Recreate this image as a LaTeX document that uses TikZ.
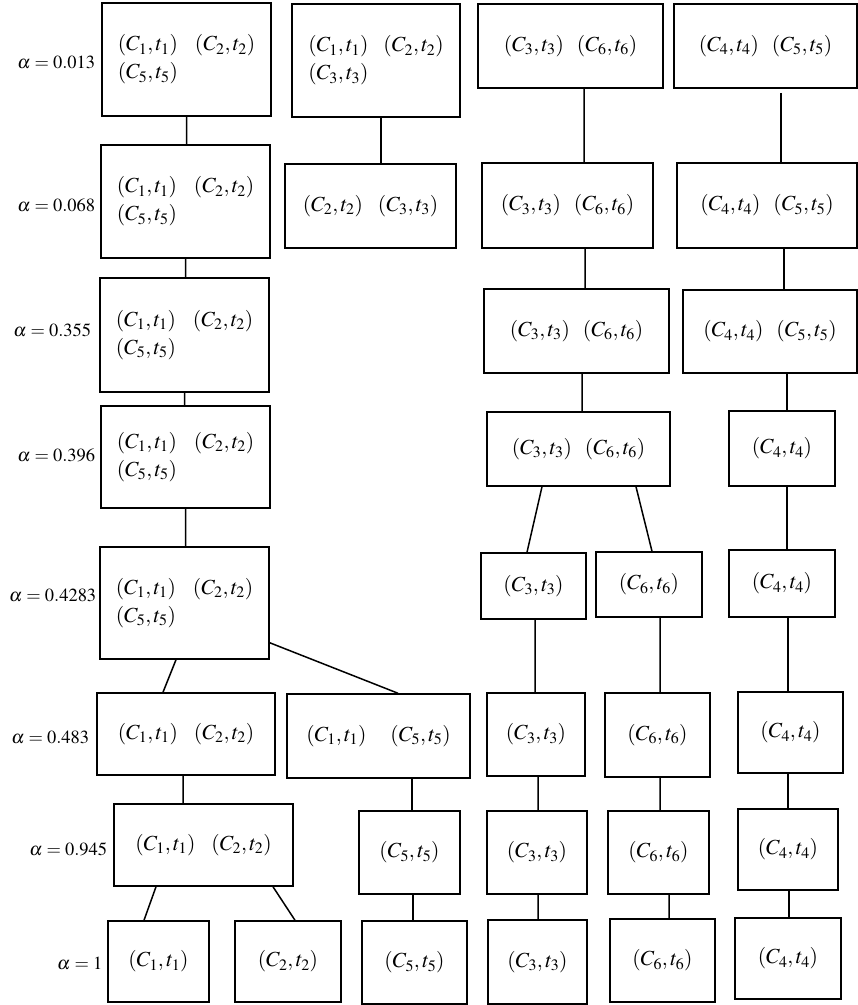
\documentclass[tikz,border=0pt]{standalone}
\usepackage{mathptmx}
\newcommand\cpair[1]{\left(C_{#1},t_{#1}\right)}

\begin{document}
\begin{tikzpicture}[x=1pt,y=-1pt,line width=1.5pt,
  cell/.style={draw,inner sep=0pt,align=left,font=\fontsize{21.5}{28}\selectfont},
  lvl/.style={anchor=east,inner sep=0pt,font=\fontsize{18.5}{22}\selectfont}]
\useasboundingbox (0,0) rectangle (858,1005);
% levels
\node[lvl] (l1) at (96,62) {$\alpha=0.013$};
\node[lvl] (l2) at (96,205) {$\alpha=0.068$};
\node[lvl] (l3) at (92,330) {$\alpha=0.355$};
\node[lvl] (l4) at (96,455) {$\alpha=0.396$};
\node[lvl] (l5) at (97,595) {$\alpha=0.4283$};
\node[lvl] (l6) at (90,737) {$\alpha=0.483$};
\node[lvl] (l7) at (108,849) {$\alpha=0.945$};
\node[lvl] (l8) at (103,963) {$\alpha=1$};
% first column
\node[cell,minimum width=169,minimum height=113] (b1a) at (186.5,59.5)
  {$\cpair1$\hspace{17pt}$\cpair2$\\$\cpair5$};
\node[cell,minimum width=169,minimum height=113] (b1b) at (185.5,201.5)
  {$\cpair1$\hspace{17pt}$\cpair2$\\$\cpair5$};
\node[cell,minimum width=169,minimum height=114] (b1c) at (184.5,335)
  {$\cpair1$\hspace{17pt}$\cpair2$\\$\cpair5$};
\node[cell,minimum width=169,minimum height=102] (b1d) at (185.5,457)
  {$\cpair1$\hspace{17pt}$\cpair2$\\$\cpair5$};
\node[cell,minimum width=169,minimum height=112] (b1e) at (184.5,603)
  {$\cpair1$\hspace{17pt}$\cpair2$\\$\cpair5$};
\node[cell,minimum width=178,minimum height=82] (b1f) at (186,734) {$\cpair1$\hspace{16pt}$\cpair2$};
\node[cell,minimum width=179,minimum height=82] (b1g) at (203.5,845) {$\cpair1$\hspace{16pt}$\cpair2$};
\node[cell,minimum width=101,minimum height=81] (b1h) at (158.5,961.5) {$\cpair1$};
\node[cell,minimum width=106,minimum height=81] (b1i) at (288,961.5) {$\cpair2$};
% second column
\node[cell,minimum width=168,minimum height=113] (b2a) at (376,60.5)
  {$\cpair1$\hspace{15pt}$\cpair2$\\$\cpair3$};
\node[cell,minimum width=171,minimum height=84] (b2b) at (370.5,206) {$\cpair2$\hspace{15pt}$\cpair3$};
\node[cell,minimum width=183,minimum height=84] (b2c) at (378.5,736) {$\cpair1$\hspace{24pt}$\cpair5$};
\node[cell,minimum width=101,minimum height=83] (b2d) at (409.5,852.5) {$\cpair5$};
\node[cell,minimum width=105,minimum height=83] (b2e) at (414.5,962.5) {$\cpair5$};
% third column
\node[cell,minimum width=185,minimum height=84] (b3a) at (570.5,46) {$\cpair3$\hspace{13pt}$\cpair6$};
\node[cell,minimum width=171,minimum height=85] (b3b) at (567.5,205.5) {$\cpair3$\hspace{13pt}$\cpair6$};
\node[cell,minimum width=185,minimum height=84] (b3c) at (576.5,331) {$\cpair3$\hspace{13pt}$\cpair6$};
\node[cell,minimum width=183,minimum height=74] (b3d) at (578.5,449) {$\cpair3$\hspace{13pt}$\cpair6$};
\node[cell,minimum width=105,minimum height=66] (b3e) at (533.5,586) {$\cpair3$};
\node[cell,minimum width=106,minimum height=65] (b3f) at (649,584.5) {$\cpair6$};
\node[cell,minimum width=98,minimum height=83] (b3g) at (536,734.5) {$\cpair3$};
\node[cell,minimum width=100,minimum height=83] (b3h) at (537,852.5) {$\cpair3$};
\node[cell,minimum width=99,minimum height=84] (b3i) at (537.5,962) {$\cpair3$};
\node[cell,minimum width=105,minimum height=84] (b4g) at (657.5,735) {$\cpair6$};
\node[cell,minimum width=101,minimum height=83] (b4h) at (658.5,852.5) {$\cpair6$};
\node[cell,minimum width=105,minimum height=83] (b4i) at (662.5,960.5) {$\cpair6$};
% last column
\node[cell,minimum width=183,minimum height=84] (b5a) at (765.5,46) {$\cpair4$\hspace{13pt}$\cpair5$};
\node[cell,minimum width=180,minimum height=85] (b5b) at (767,205.5) {$\cpair4$\hspace{13pt}$\cpair5$};
\node[cell,minimum width=174,minimum height=83] (b5c) at (770,331.5) {$\cpair4$\hspace{13pt}$\cpair5$};
\node[cell,minimum width=106,minimum height=75] (b5d) at (782,448.5) {$\cpair4$};
\node[cell,minimum width=106,minimum height=67] (b5e) at (782,583.5) {$\cpair4$};
\node[cell,minimum width=105,minimum height=81] (b5f) at (790.5,732.5) {$\cpair4$};
\node[cell,minimum width=100,minimum height=81] (b5g) at (788,849.5) {$\cpair4$};
\node[cell,minimum width=106,minimum height=81] (b5h) at (788,958.5) {$\cpair4$};
% links
\draw(b1a.south)--(b1a.south|-b1b.north)(b1b.south)--(b1b.south|-b1c.north)
(b1c.south)--(b1c.south|-b1d.north)(b1d.south)--(b1d.south|-b1e.north)
([xshift=-8.5]b1e.south)--([xshift=-23]b1f.north)
([yshift=17]b1e.south east)--([xshift=19.5]b2c.north)
([xshift=-3]b1f.south)--([xshift=-3]b1f.south|-b1g.north)
([xshift=-47.5]b1g.south)--([xshift=-14.5]b1h.north)
([xshift=69.5]b1g.south)--([xshift=7]b1i.north);
\draw([xshift=5]b2a.south)--([xshift=5]b2a.south|-b2b.north)
([xshift=33.5]b2c.south)--([xshift=33.5]b2c.south|-b2d.north)
([xshift=3.5]b2d.south)--([xshift=3.5]b2d.south|-b2e.north);
\draw([xshift=13.5]b3a.south)--([xshift=13.5]b3a.south|-b3b.north)
([xshift=17.5]b3b.south)--([xshift=17.5]b3b.south|-b3c.north)
([xshift=5.5]b3c.south)--([xshift=5.5]b3c.south|-b3d.north)
([xshift=-36.5]b3d.south)--([xshift=-6.5]b3e.north)
([xshift=57.5]b3d.south)--([xshift=3]b3f.north)
([xshift=1.5]b3e.south)--([xshift=1.5]b3e.south|-b3g.north)
([xshift=11]b3f.south)--([xshift=11]b3f.south|-b4g.north)
([xshift=2]b3g.south)--([xshift=2]b3g.south|-b3h.north)
([xshift=1]b3h.south)--([xshift=1]b3h.south|-b3i.north)
([xshift=2.5]b4g.south)--([xshift=2.5]b4g.south|-b4h.north)
([xshift=10.5]b4h.south)--([xshift=10.5]b4h.south|-b4i.north);
\draw([xshift=15.5,yshift=-4]b5a.south)--([xshift=15.5]b5a.south|-b5b.north)
([xshift=17]b5b.south)--([xshift=17]b5b.south|-b5c.north)
([xshift=17]b5c.south)--([xshift=17]b5c.south|-b5d.north)
([xshift=5]b5d.south)--([xshift=5]b5d.south|-b5e.north)
([xshift=6]b5e.south)--([xshift=6]b5e.south|-b5f.north)
([xshift=-2.5]b5f.south)--([xshift=-2.5]b5f.south|-b5g.north)
([xshift=1]b5g.south)--([xshift=1]b5g.south|-b5h.north);
\end{tikzpicture}
\end{document}
